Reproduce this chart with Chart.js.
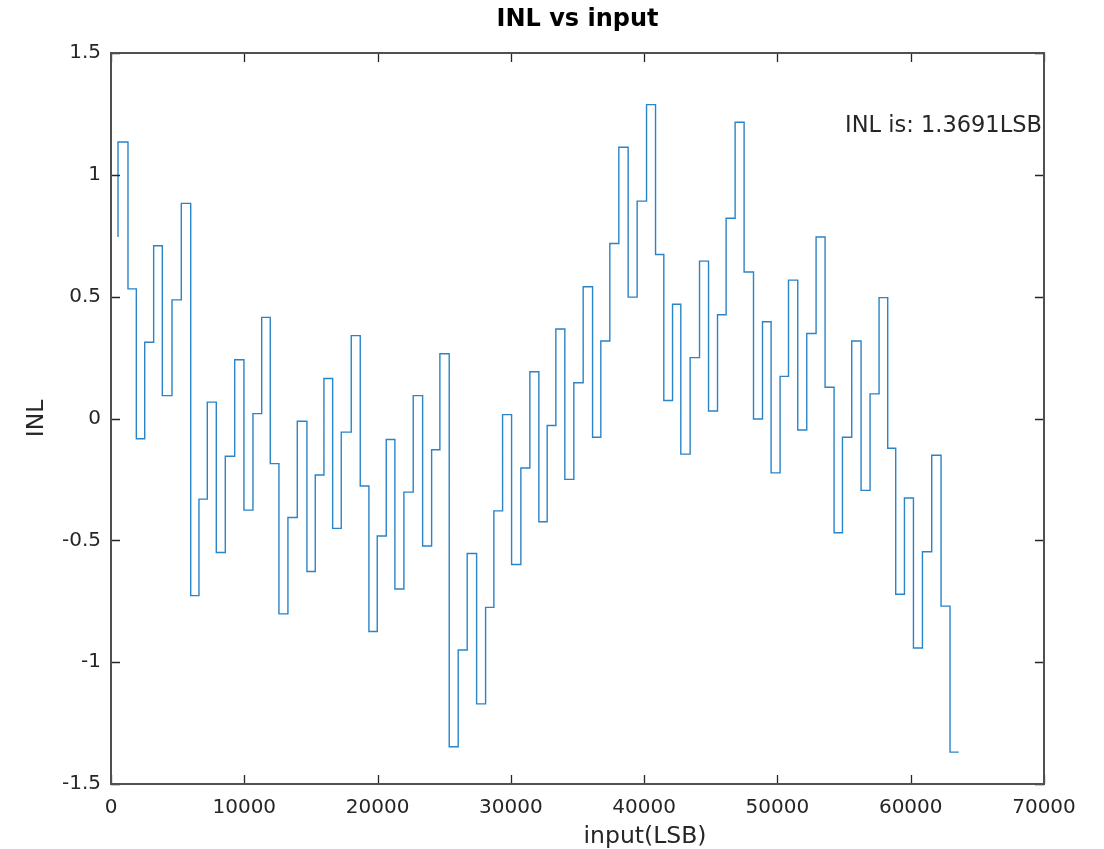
<!DOCTYPE html>
<html>
<head>
<meta charset="utf-8">
<script src="https://cdn.jsdelivr.net/npm/chart.js@4.4.1/dist/chart.umd.min.js"></script>
<style>
html,body{margin:0;padding:0;background:#fff;}
#wrap{width:1104px;height:849px;position:relative;}
</style>
</head>
<body>
<div id="wrap"><canvas id="c"></canvas></div>
<script>
// ---- data ----
const inputCodes = [525, 525, 1275, 1900, 2530, 3200, 3850, 4575, 5275, 5980, 6600, 7225, 7900, 8575, 9280, 9975,
  10650, 11305, 11950, 12600, 13275, 13975, 14700, 15325, 15975, 16630, 17275, 18025, 18700, 19350, 19975, 20650,
  21300, 21975, 22675, 23380, 24055, 24675, 25375, 26050, 26725, 27430, 28105, 28725, 29380, 30055, 30750, 31425,
  32100, 32725, 33375, 34050, 34725, 35425, 36130, 36750, 37425, 38100, 38800, 39475, 40180, 40855, 41475, 42130,
  42750, 43450, 44155, 44830, 45505, 46150, 46825, 47500, 48205, 48880, 49525, 50200, 50830, 51525, 52200, 52900,
  53575, 54250, 54880, 55575, 56275, 56950, 57625, 58275, 58875, 59530, 60205, 60880, 61575, 62275, 62950, 63600];
const inlValues = [0.745, 1.135, 0.532, -0.083, 0.313, 0.709, 0.094, 0.487, 0.883, -0.727, -0.331, 0.067, -0.550, -0.155, 0.241, -0.376,
  0.020, 0.415, -0.185, -0.802, -0.406, -0.011, -0.628, -0.232, 0.164, -0.451, -0.056, 0.340, -0.277, -0.874, -0.482, -0.086,
  -0.700, -0.302, 0.094, -0.523, -0.128, 0.266, -1.347, -0.950, -0.554, -1.171, -0.775, -0.379, 0.016, -0.599, -0.203, 0.192,
  -0.424, -0.029, 0.367, -0.250, 0.147, 0.541, -0.077, 0.318, 0.718, 1.113, 0.498, 0.892, 1.288, 0.673, 0.074, 0.469,
  -0.146, 0.250, 0.646, 0.031, 0.426, 0.822, 1.216, 0.601, -0.002, 0.397, -0.223, 0.173, 0.568, -0.047, 0.349, 0.745,
  0.128, -0.469, -0.077, 0.318, -0.295, 0.101, 0.496, -0.122, -0.721, -0.326, -0.942, -0.547, -0.151, -0.770, -1.369, -1.369];
const xTickValues = [0, 10000, 20000, 30000, 40000, 50000, 60000, 70000];
const yTickValues = [-1.5, -1, -0.5, 0, 0.5, 1, 1.5];
const chartTitle = 'INL vs input';
const xAxisLabel = 'input(LSB)';
const yAxisLabel = 'INL';
const noteX = [55000];
const noteY = [1.2];
const noteText = ['INL is: 1.3691LSB'];

const FONT = "'DejaVu Sans', Verdana, sans-serif";

const framePlugin = {
  id: 'frame',
  afterDraw(chart) {
    const {ctx, chartArea: a, scales: {x, y}} = chart;
    ctx.save();
    // tick marks (inward, all four sides)
    ctx.strokeStyle = '#262626';
    ctx.lineWidth = 1.3;
    ctx.beginPath();
    x.ticks.forEach(t => {
      const px = Math.round(x.getPixelForValue(t.value)) + 0.5;
      ctx.moveTo(px, a.bottom); ctx.lineTo(px, a.bottom - 9);
      ctx.moveTo(px, a.top); ctx.lineTo(px, a.top + 9);
    });
    y.ticks.forEach(t => {
      const py = Math.round(y.getPixelForValue(t.value)) + 0.5;
      ctx.moveTo(a.left, py); ctx.lineTo(a.left + 9, py);
      ctx.moveTo(a.right, py); ctx.lineTo(a.right - 9, py);
    });
    ctx.stroke();
    // box
    ctx.strokeStyle = '#505050';
    ctx.lineWidth = 2;
    ctx.strokeRect(a.left, a.top, a.right - a.left, a.bottom - a.top);

    // title
    ctx.fillStyle = '#000';
    ctx.font = "bold 24px " + FONT;
    ctx.textAlign = 'center';
    ctx.textBaseline = 'alphabetic';
    ctx.fillText(chartTitle, (a.left + a.right) / 2, 26);

    // x label
    ctx.fillStyle = '#262626';
    ctx.font = "23.5px " + FONT;
    ctx.fillText(xAxisLabel, 645, 843);

    // y label
    ctx.save();
    ctx.translate(43, (a.top + a.bottom) / 2);
    ctx.rotate(-Math.PI / 2);
    ctx.textAlign = 'center';
    ctx.textBaseline = 'alphabetic';
    ctx.fillText(yAxisLabel, 0, 0);
    ctx.restore();

    // annotation
    ctx.font = "22.5px " + FONT;
    ctx.textAlign = 'left';
    ctx.textBaseline = 'middle';
    noteText.forEach((t, i) => {
      ctx.fillText(t, x.getPixelForValue(noteX[i]) + 1, y.getPixelForValue(noteY[i]));
    });
    ctx.restore();
  }
};

const points = inputCodes.map((v, i) => ({x: v, y: inlValues[i]}));

new Chart(document.getElementById('c'), {
  type: 'line',
  data: {
    datasets: [{
      data: points,
      borderColor: '#2a84c8',
      borderWidth: 1.4,
      pointRadius: 0,
      stepped: 'before',
      fill: false,
      tension: 0
    }]
  },
  options: {
    responsive: true,
    maintainAspectRatio: false,
    animation: false,
    layout: {padding: {top: 53, right: 60, left: 0, bottom: 0}},
    plugins: {legend: {display: false}, tooltip: {enabled: false}, title: {display: false}},
    scales: {
      x: {
        type: 'linear', min: 0, max: 70000,
        afterBuildTicks: s => { s.ticks = xTickValues.map(v => ({value: v})); },
        grid: {display: false, drawTicks: false},
        border: {display: false},
        ticks: {font: {family: FONT, size: 20}, color: '#262626', padding: 12, maxRotation: 0, autoSkip: false,
                callback: v => String(v)},
        afterFit: s => { s.height = 65; }
      },
      y: {
        type: 'linear', min: -1.5, max: 1.5,
        afterBuildTicks: s => { s.ticks = yTickValues.map(v => ({value: v})); },
        grid: {display: false, drawTicks: false},
        border: {display: false},
        ticks: {font: {family: FONT, size: 20}, color: '#262626', padding: 10, autoSkip: false,
                callback: v => String(v)},
        afterFit: s => { s.width = 111; }
      }
    }
  },
  plugins: [framePlugin]
});
</script>
</body>
</html>
